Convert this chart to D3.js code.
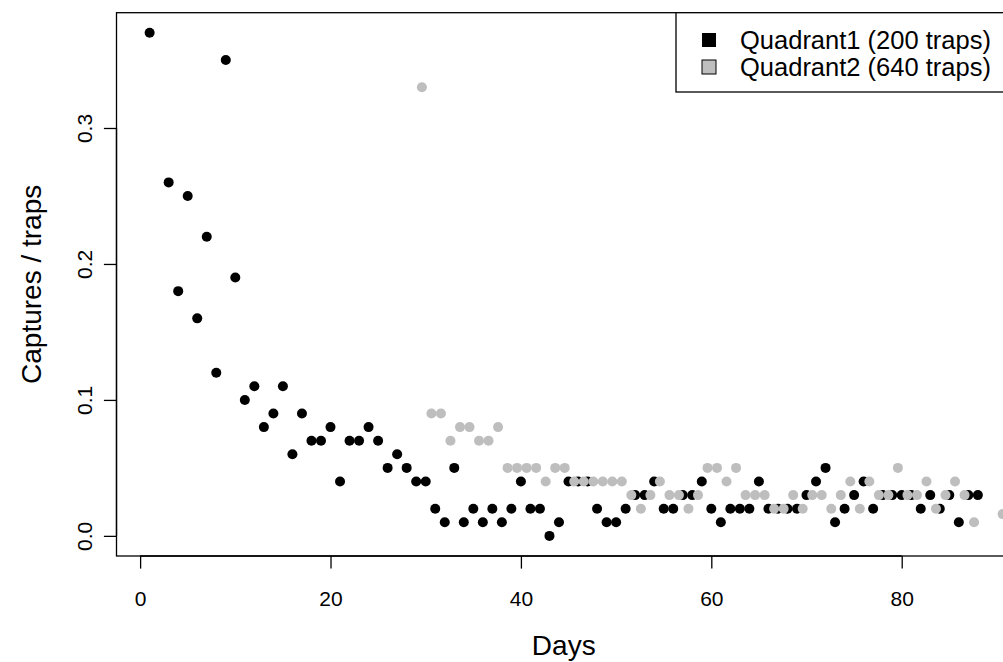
<!DOCTYPE html>
<html><head><meta charset="utf-8">
<script src="https://cdn.jsdelivr.net/npm/d3@7"></script>
<style>body{margin:0;overflow:hidden;background:#fff}svg{display:block}</style>
</head><body>
<svg id="chart" width="1003" height="662"></svg>
<script>
// ---- data ----
const q1Days = [1,3,4,5,6,7,8,9,10,11,12,13,14,15,16,17,18,19,20,21,22,23,24,25,26,27,28,29,30,
  31,32,33,34,35,36,37,38,39,40,41,42,43,44,45,46,47,48,49,50,51,52,53,54,55,56,57,58,59,60,
  61,62,63,64,65,66,67,68,69,70,71,72,73,74,75,76,77,78,79,80,81,82,83,84,85,86,87,88];
const q1Values = [0.37,0.26,0.18,0.25,0.16,0.22,0.12,0.35,0.19,0.10,0.11,0.08,0.09,0.11,0.06,0.09,0.07,0.07,0.08,0.04,0.07,0.07,0.08,0.07,0.05,0.06,0.05,0.04,0.04,
  0.02,0.01,0.05,0.01,0.02,0.01,0.02,0.01,0.02,0.04,0.02,0.02,0.00,0.01,0.04,0.04,0.04,0.02,0.01,0.01,0.02,0.03,0.03,0.04,0.02,0.02,0.03,0.03,0.04,0.02,
  0.01,0.02,0.02,0.02,0.04,0.02,0.02,0.02,0.02,0.03,0.04,0.05,0.01,0.02,0.03,0.04,0.02,0.03,0.03,0.03,0.03,0.02,0.03,0.02,0.03,0.01,0.03,0.03];
const q2Days = [29.6,30.6,31.6,32.6,33.6,34.6,35.6,36.6,37.6,38.6,39.6,40.6,41.6,42.6,43.6,44.6,45.6,46.6,47.6,48.6,49.6,50.6,
  51.6,52.6,53.6,54.6,55.6,56.6,57.6,58.6,59.6,60.6,61.6,62.6,63.6,64.6,65.6,66.6,67.6,68.6,69.6,70.6,
  71.6,72.6,73.6,74.6,75.6,76.6,77.6,78.6,79.6,80.6,81.6,82.6,83.6,84.6,85.6,86.6,87.6,90.6];
const q2Values = [0.33,0.09,0.09,0.07,0.08,0.08,0.07,0.07,0.08,0.05,0.05,0.05,0.05,0.04,0.05,0.05,0.04,0.04,0.04,0.04,0.04,0.04,
  0.03,0.02,0.03,0.04,0.03,0.03,0.02,0.03,0.05,0.05,0.04,0.05,0.03,0.03,0.03,0.02,0.02,0.03,0.02,0.03,
  0.03,0.02,0.03,0.04,0.02,0.04,0.03,0.03,0.05,0.03,0.03,0.04,0.02,0.03,0.04,0.03,0.01,0.016];
const xTickValues = [0,20,40,60,80];
const yTickValues = [0,0.1,0.2,0.3];
const legendLabels = ["Quadrant1 (200 traps)", "Quadrant2 (640 traps)"];
const seriesColors = ["#000000", "#bebebe"];
const xTitle = "Days";
const yTitle = "Captures / traps";

// ---- layout ----
const FONT = "'Liberation Sans', Arial, sans-serif";
const plot = {left: 116.5, right: 1011, top: 12.7, bottom: 556};
const svg = d3.select("#chart");

// R-style 4% padding of the first series' range
const xr = d3.extent(q1Days), yr = d3.extent(q1Values);
const xp = 0.04 * (xr[1] - xr[0]), yp = 0.04 * (yr[1] - yr[0]);
const x = d3.scaleLinear().domain([xr[0] - xp, xr[1] + xp]).range([plot.left, plot.right]);
const y = d3.scaleLinear().domain([yr[0] - yp, yr[1] + yp]).range([plot.bottom, plot.top]);

svg.append("clipPath").attr("id", "pc").append("rect")
  .attr("x", plot.left).attr("y", plot.top)
  .attr("width", plot.right - plot.left).attr("height", plot.bottom - plot.top);

const pts = svg.append("g").attr("clip-path", "url(#pc)");
const r = 5;
pts.selectAll("circle.q1").data(q1Days.map((d, i) => [d, q1Values[i]])).enter()
  .append("circle").attr("class", "q1")
  .attr("cx", d => x(d[0])).attr("cy", d => y(d[1])).attr("r", r).attr("fill", seriesColors[0]);
pts.selectAll("circle.q2").data(q2Days.map((d, i) => [d, q2Values[i]])).enter()
  .append("circle").attr("class", "q2")
  .attr("cx", d => x(d[0])).attr("cy", d => y(d[1])).attr("r", r).attr("fill", seriesColors[1]);

// box
svg.append("rect").attr("x", plot.left).attr("y", plot.top)
  .attr("width", plot.right - plot.left).attr("height", plot.bottom - plot.top)
  .attr("fill", "none").attr("stroke", "#000").attr("stroke-width", 1.3);

const TICK = 12.6;
// x axis
const gx = svg.append("g").attr("transform", `translate(0,${plot.bottom})`)
  .call(d3.axisBottom(x).tickValues(xTickValues).tickFormat(d3.format("d")).tickSize(TICK));
gx.select(".domain").attr("d", `M${x(xTickValues[0])},0H${x(xTickValues[xTickValues.length-1])}`).attr("stroke-width", 1.3);
gx.selectAll(".tick line").attr("stroke-width", 1.3);
gx.selectAll(".tick text").attr("font-family", FONT).attr("font-size", 21).attr("fill", "#000")
  .attr("y", 50).attr("dy", null);

// y axis
const gy = svg.append("g").attr("transform", `translate(${plot.left},0)`)
  .call(d3.axisLeft(y).tickValues(yTickValues).tickFormat(d3.format(".1f")).tickSize(TICK));
gy.select(".domain").attr("d", `M0,${y(yTickValues[0])}V${y(yTickValues[yTickValues.length-1])}`).attr("stroke-width", 1.3);
gy.selectAll(".tick line").attr("stroke-width", 1.3);
gy.selectAll(".tick text").attr("font-family", FONT).attr("font-size", 21).attr("fill", "#000")
  .attr("x", null).attr("dy", null).attr("text-anchor", "middle")
  .attr("transform", "translate(-25,0) rotate(-90)");

// axis titles
svg.append("text").attr("x", (plot.left + plot.right) / 2).attr("y", 655)
  .attr("text-anchor", "middle").attr("font-family", FONT).attr("font-size", 28).text(xTitle);
svg.append("text").attr("transform", `translate(41,${(plot.top + plot.bottom) / 2}) rotate(-90)`)
  .attr("text-anchor", "middle").attr("font-family", FONT).attr("font-size", 28).text(yTitle);

// legend
const leg = svg.append("g");
leg.append("rect").attr("x", 676).attr("y", plot.top).attr("width", plot.right - 676).attr("height", 92 - plot.top)
  .attr("fill", "#fff").attr("stroke", "#000").attr("stroke-width", 1.3);
legendLabels.forEach((lab, i) => {
  const cy = 40 + i * 27;
  leg.append("rect").attr("x", 702).attr("y", cy - 7).attr("width", 14).attr("height", 14)
    .attr("fill", seriesColors[i]).attr("stroke", "#000").attr("stroke-width", i ? 1 : 0);
  leg.append("text").attr("x", 740).attr("y", cy + 9).attr("font-family", FONT).attr("font-size", 25.5).text(lab);
});
</script>
</body></html>
